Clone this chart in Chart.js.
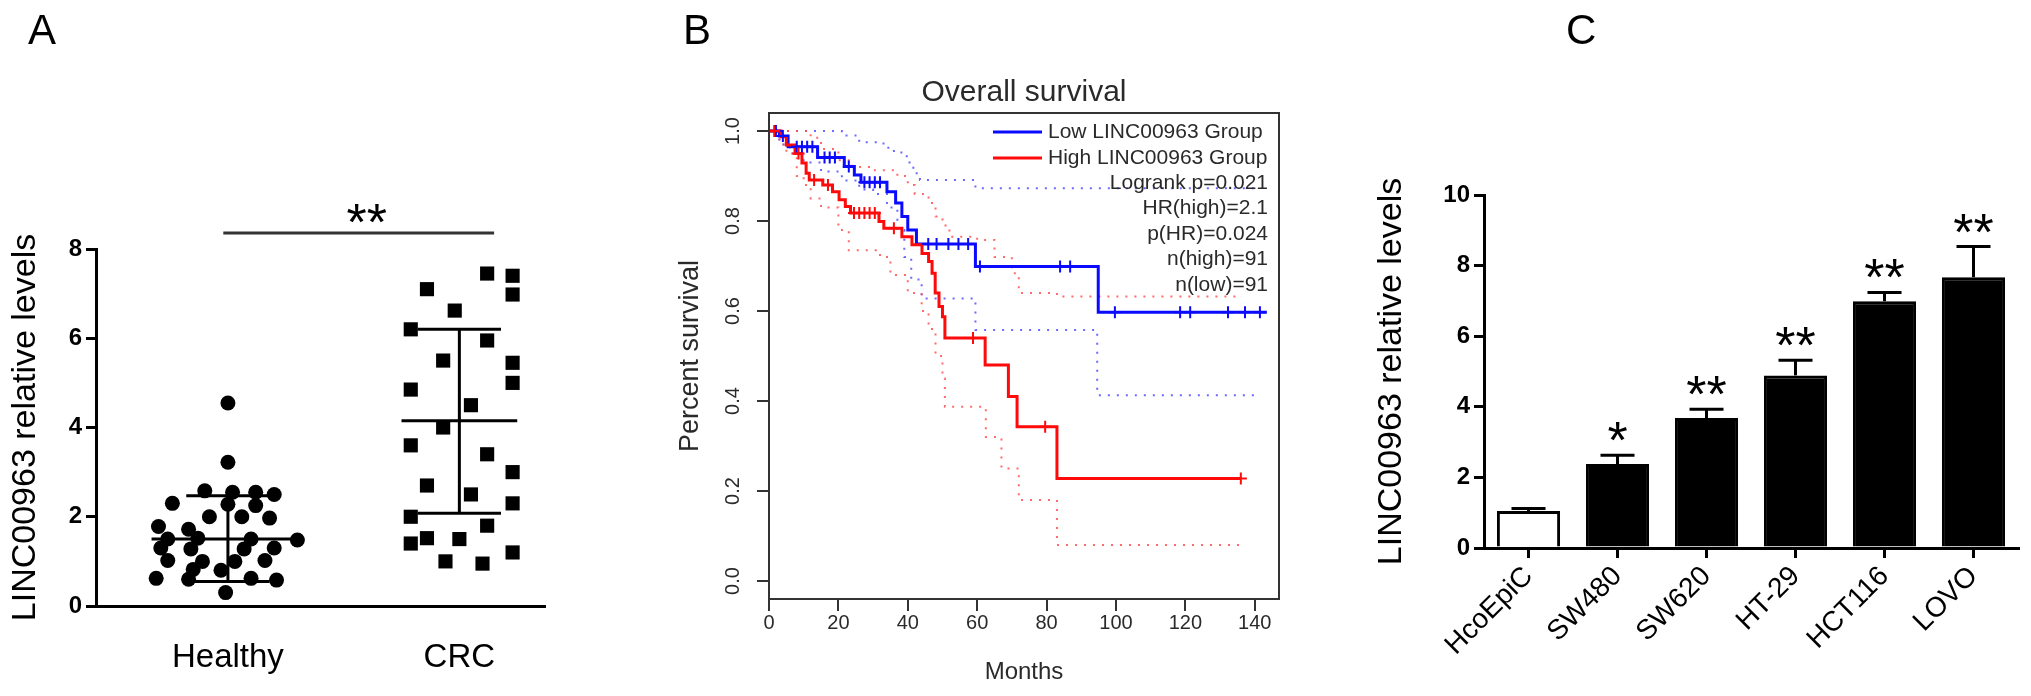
<!DOCTYPE html>
<html>
<head>
<meta charset="utf-8">
<script src="https://cdn.jsdelivr.net/npm/chart.js@4.4.1/dist/chart.umd.min.js"></script>
<style>
html,body{margin:0;padding:0;background:#fff;width:2031px;height:696px;overflow:hidden;}
canvas{position:absolute;top:0;}
.letter{position:absolute;font-family:'Liberation Sans',Arial,sans-serif;font-size:42px;color:#000;line-height:1;}
</style>
</head>
<body>
<canvas id="cA" width="600" height="696" style="left:0px"></canvas>
<canvas id="cB" width="690" height="696" style="left:600px"></canvas>
<canvas id="cC" width="741" height="696" style="left:1290px"></canvas>
<div class="letter" style="left:28px;top:9px">A</div>
<div class="letter" style="left:683px;top:9px">B</div>
<div class="letter" style="left:1566px;top:9px">C</div>
<script>
// ---------------- Panel A data ----------------
const groupLabels = ['Healthy', 'CRC'];
const yTicksA = [0, 2, 4, 6, 8];
const healthyValues = [4.55, 3.22, 2.58, 2.55, 2.55, 2.5, 2.3, 2.28, 2.25, 2.0, 2.0, 1.97, 1.78, 1.72,
  1.5, 1.52, 1.5, 1.48, 1.3, 1.28, 1.28, 1.3, 1.02, 1.0, 1.0, 1.02, 0.82, 0.8, 0.62, 0.6, 0.62, 0.58, 0.3];
const healthyJitter = [0.0, 0.0, -0.10, 0.02, 0.12, 0.20, -0.24, 0.0, 0.12, -0.08, 0.06, 0.18, -0.30, -0.17,
  -0.26, -0.13, 0.10, 0.30, -0.29, -0.16, 0.07, 0.20, -0.26, -0.11, 0.03, 0.16, -0.15, -0.03, -0.31, -0.17, 0.10, 0.21, -0.01];
const crcValues = [7.45, 7.4, 7.1, 6.98, 6.62, 6.2, 5.95, 5.5, 5.45, 5.0, 4.85, 4.5, 4.0, 3.6, 3.4, 3.0,
  2.7, 2.5, 2.3, 2.0, 1.8, 1.52, 1.5, 1.4, 1.2, 1.0, 0.95];
const crcJitter = [0.12, 0.23, -0.14, 0.23, -0.02, -0.21, 0.12, -0.07, 0.23, 0.23, -0.21, 0.05, -0.07, -0.21, 0.12, 0.23,
  -0.14, 0.05, 0.23, -0.21, 0.12, -0.14, 0.0, -0.21, 0.23, -0.06, 0.10];
const groupMeans = [1.5, 4.15];
const groupSdLow = [0.55, 2.08];
const groupSdHigh = [2.47, 6.2];
const sigLabelA = '**';

// ---------------- Panel B data ----------------
const kmTicksX = [0, 20, 40, 60, 80, 100, 120, 140];
const kmTicksY = [0, 0.2, 0.4, 0.6, 0.8, 1.0];
const kmGroups = ['Low LINC00963 Group', 'High LINC00963 Group'];
const kmStats = ['Logrank p=0.021', 'HR(high)=2.1', 'p(HR)=0.024', 'n(high)=91', 'n(low)=91'];
const lowTimes = [0, 3, 5.5, 14, 21.7, 24.6, 26.5, 34, 36.5, 38.3, 40, 42.5, 59.5, 94.9, 143.5];
const lowSurv  = [1, 0.989, 0.965, 0.941, 0.921, 0.902, 0.886, 0.865, 0.84, 0.81, 0.78, 0.749, 0.699, 0.597, 0.597];
const highTimes = [0, 3.5, 5, 7.5, 9.5, 10.7, 11.6, 15.5, 18.3, 20.2, 22, 23.5, 31.7, 33.1, 38.3, 41.2, 44.1, 46, 47, 47.9, 49, 50, 50.7, 62.3, 69, 71.5, 83, 136];
const highSurv  = [1, 0.987, 0.969, 0.95, 0.929, 0.906, 0.891, 0.88, 0.865, 0.847, 0.832, 0.818, 0.799, 0.784, 0.765, 0.747, 0.728, 0.71, 0.684, 0.64, 0.61, 0.587, 0.54, 0.48, 0.41, 0.343, 0.228, 0.228];
const lowCensorTimes = [2, 4, 8, 9.5, 11, 12.5, 16, 17.5, 19, 23, 27.5, 29, 30.5, 32, 45.9, 48.3, 51.7, 54.6, 57.4, 60.8, 83.9, 86.8, 99.7, 118.5, 121.4, 132.3, 137.2, 141.5];
const lowCensorSurv  = [1, 0.989, 0.965, 0.965, 0.965, 0.965, 0.941, 0.941, 0.941, 0.921, 0.886, 0.886, 0.886, 0.886, 0.749, 0.749, 0.749, 0.749, 0.749, 0.699, 0.699, 0.699, 0.597, 0.597, 0.597, 0.597, 0.597, 0.597];
const highCensorTimes = [1.5, 8.5, 13, 17, 24.5, 26, 27.5, 29, 30.5, 36, 58.8, 79.6, 136];
const highCensorSurv  = [1, 0.95, 0.891, 0.88, 0.818, 0.818, 0.818, 0.818, 0.818, 0.784, 0.54, 0.343, 0.228];
const lowUpperTimes = [0, 21, 26, 33, 36, 39.7, 41.6, 43.5, 59.5, 141.5];
const lowUpperSurv  = [1, 0.99, 0.975, 0.963, 0.952, 0.93, 0.906, 0.891, 0.873, 0.873];
const lowLowerTimes = [0, 3, 6, 10, 15, 21, 26, 30, 34, 37, 39, 41, 44, 59.5, 94.6, 140];
const lowLowerSurv  = [1, 0.97, 0.95, 0.93, 0.91, 0.89, 0.87, 0.86, 0.83, 0.78, 0.72, 0.67, 0.628, 0.558, 0.413, 0.413];
const highUpperTimes = [0, 12, 15, 20, 24, 30, 37, 40, 42, 46, 48, 50, 52, 60, 65, 70, 72, 83, 135];
const highUpperSurv  = [1, 0.985, 0.96, 0.935, 0.92, 0.913, 0.9, 0.88, 0.86, 0.84, 0.81, 0.79, 0.765, 0.758, 0.72, 0.684, 0.64, 0.632, 0.632];
const highLowerTimes = [0, 3, 5, 8, 10, 12, 15, 20, 23, 32, 35, 40, 44, 46, 48, 50, 50.7, 62.5, 67, 72, 83, 136];
const highLowerSurv  = [1, 0.97, 0.95, 0.9, 0.88, 0.85, 0.83, 0.78, 0.735, 0.72, 0.68, 0.64, 0.6, 0.56, 0.5, 0.45, 0.387, 0.32, 0.25, 0.18, 0.08, 0.08];

// ---------------- Panel C data ----------------
const cellLines = ['HcoEpiC', 'SW480', 'SW620', 'HT-29', 'HCT116', 'LOVO'];
const levels = [1.05, 2.38, 3.68, 4.89, 6.99, 7.67];
const levelErr = [0.07, 0.25, 0.25, 0.43, 0.25, 0.87];
const sigMarks = ['', '*', '**', '**', '**', '**'];
const yTicksC = [0, 2, 4, 6, 8, 10];

// ---------------- common ----------------
const FONT = "'Liberation Sans', Arial, Helvetica, sans-serif";
Chart.defaults.font.family = FONT;
Chart.defaults.color = '#000';
Chart.defaults.animation = false;

function seg(ctx, x1, y1, x2, y2) { ctx.beginPath(); ctx.moveTo(x1, y1); ctx.lineTo(x2, y2); ctx.stroke(); }
function drawStars(ctx, txt, cx, cy) {
  ctx.font = '52px ' + FONT; ctx.textAlign = 'center'; ctx.textBaseline = 'alphabetic'; ctx.fillStyle = '#000';
  ctx.fillText(txt, cx, cy + 25);
}

// ---------------- Panel A ----------------
const panelAPlugin = {
  id: 'panelA',
  afterDatasetsDraw(chart) {
    const { ctx, scales: { x, y } } = chart;
    ctx.save();
    ctx.strokeStyle = '#000'; ctx.lineWidth = 3; ctx.lineCap = 'butt';
    const meanHalf = [0.33, 0.25], capHalf = 0.18;
    groupMeans.forEach((m, i) => {
      const c = i + 1;
      const cx = x.getPixelForValue(c);
      const ym = y.getPixelForValue(m), yl = y.getPixelForValue(groupSdLow[i]), yh = y.getPixelForValue(groupSdHigh[i]);
      seg(ctx, x.getPixelForValue(c - meanHalf[i]), ym, x.getPixelForValue(c + meanHalf[i]), ym);
      seg(ctx, cx, yl, cx, yh);
      seg(ctx, x.getPixelForValue(c - capHalf), yl, x.getPixelForValue(c + capHalf), yl);
      seg(ctx, x.getPixelForValue(c - capHalf), yh, x.getPixelForValue(c + capHalf), yh);
    });
    // significance bar
    const ly = y.getPixelForValue(8.36);
    ctx.strokeStyle = '#333';
    seg(ctx, x.getPixelForValue(0.98), ly, x.getPixelForValue(2.15), ly);
    drawStars(ctx, sigLabelA, x.getPixelForValue(1.6), ly - 18);
    ctx.restore();
  }
};

new Chart(document.getElementById('cA'), {
  type: 'scatter',
  data: {
    datasets: [
      { data: healthyValues.map((v, i) => ({ x: 1 + healthyJitter[i], y: v })), pointStyle: 'circle', pointRadius: 7.5,
        backgroundColor: '#000', borderColor: '#000', borderWidth: 0 },
      { data: crcValues.map((v, i) => ({ x: 2 + crcJitter[i], y: v })), pointStyle: 'rect', pointRadius: 10,
        backgroundColor: '#000', borderColor: '#000', borderWidth: 0 }
    ]
  },
  options: {
    responsive: false, animation: false, events: [],
    layout: { padding: { left: 0, top: 249, right: 55, bottom: 0 } },
    plugins: { legend: { display: false }, tooltip: { enabled: false } },
    scales: {
      x: {
        type: 'linear', min: 0.43, max: 2.37,
        afterFit(s) { s.height = 90; },
        afterBuildTicks(s) { s.ticks = groupLabels.map((g, i) => ({ value: i + 1 })); },
        grid: { display: false },
        border: { display: true, color: '#000', width: 3 },
        ticks: { callback: (v) => groupLabels[v - 1], font: { size: 33 }, color: '#000', padding: 24, maxRotation: 0, autoSkip: false }
      },
      y: {
        min: 0, max: 8,
        afterFit(s) { s.width = 96; },
        afterBuildTicks(s) { s.ticks = yTicksA.map(v => ({ value: v })); },
        grid: { drawOnChartArea: false, tickLength: 10, lineWidth: 3, color: '#000' },
        border: { display: true, color: '#000', width: 3 },
        ticks: { font: { size: 24, weight: 'bold' }, color: '#000', padding: 4 },
        title: { display: true, text: 'LINC00963 relative levels', font: { size: 34 }, color: '#000', padding: { top: 5, bottom: 0 } }
      }
    }
  },
  plugins: [panelAPlugin]
});

// ---------------- Panel B ----------------
const BLUE = '#0a0aff', RED = '#ff0a0a', TXT = '#2a2a2a';
function pts(t, s) { return t.map((v, i) => ({ x: v, y: s[i] })); }
function stepDs(t, s, color, width, dash) {
  return { type: 'line', data: pts(t, s), stepped: 'before', borderColor: color, borderWidth: width,
    borderDash: dash || [], pointRadius: 0, fill: false, tension: 0 };
}
function censorDs(t, s, color) {
  return { type: 'scatter', data: pts(t, s), pointStyle: 'cross', pointRadius: 6, borderColor: color,
    backgroundColor: color, borderWidth: 2, showLine: false };
}
const panelBPlugin = {
  id: 'panelB',
  afterDraw(chart) {
    const { ctx, chartArea: a, scales: { y } } = chart;
    ctx.save();
    ctx.strokeStyle = '#333'; ctx.lineWidth = 2;
    ctx.strokeRect(a.left, a.top, a.right - a.left, a.bottom - a.top);
    ctx.fillStyle = TXT;
    // y tick labels (rotated, R style)
    ctx.font = '20px ' + FONT; ctx.textAlign = 'center'; ctx.textBaseline = 'middle';
    kmTicksY.forEach(v => {
      ctx.save(); ctx.translate(a.left - 36, y.getPixelForValue(v)); ctx.rotate(-Math.PI / 2);
      ctx.fillText(v.toFixed(1), 0, 0); ctx.restore();
    });
    // title
    ctx.font = '30px ' + FONT; ctx.textAlign = 'center'; ctx.textBaseline = 'middle';
    ctx.fillText('Overall survival', (a.left + a.right) / 2, a.top - 20);
    // legend
    const colors = [BLUE, RED];
    ctx.font = '21px ' + FONT; ctx.textAlign = 'left';
    kmGroups.forEach((g, i) => {
      const ly = a.top + 19 + i * 26;
      ctx.strokeStyle = colors[i]; ctx.lineWidth = 3;
      seg(ctx, a.right - 286, ly, a.right - 237, ly);
      ctx.fillStyle = TXT; ctx.fillText(g, a.right - 231, ly);
    });
    ctx.textAlign = 'right';
    kmStats.forEach((s, i) => ctx.fillText(s, a.right - 11, a.top + 70 + i * 25.5));
    ctx.restore();
  }
};

new Chart(document.getElementById('cB'), {
  type: 'line',
  data: {
    datasets: [
      censorDs(highCensorTimes, highCensorSurv, RED),
      censorDs(lowCensorTimes, lowCensorSurv, BLUE),
      stepDs(highTimes, highSurv, RED, 3),
      stepDs(lowTimes, lowSurv, BLUE, 3),
      stepDs(highUpperTimes, highUpperSurv, 'rgba(255,80,80,0.85)', 2, [2, 7]),
      stepDs(highLowerTimes, highLowerSurv, 'rgba(255,80,80,0.85)', 2, [2, 7]),
      stepDs(lowUpperTimes, lowUpperSurv, 'rgba(80,80,255,0.85)', 2, [2, 7]),
      stepDs(lowLowerTimes, lowLowerSurv, 'rgba(80,80,255,0.85)', 2, [2, 7])
    ]
  },
  options: {
    responsive: false, animation: false, events: [],
    layout: { padding: { left: 0, top: 113, right: 11, bottom: 0 } },
    plugins: { legend: { display: false }, tooltip: { enabled: false } },
    scales: {
      x: {
        type: 'linear', min: 0, max: 147,
        afterFit(s) { s.height = 97; },
        afterBuildTicks(s) { s.ticks = kmTicksX.map(v => ({ value: v })); },
        grid: { drawOnChartArea: false, tickLength: 12, lineWidth: 2, color: '#333' },
        border: { display: false },
        ticks: { font: { size: 20 }, color: TXT, padding: 0, maxRotation: 0, autoSkip: false },
        title: { display: true, text: 'Months', font: { size: 24 }, color: TXT, padding: { top: 0, bottom: 9 } }
      },
      y: {
        type: 'linear', min: -0.04, max: 1.04,
        afterFit(s) { s.width = 169; },
        afterBuildTicks(s) { s.ticks = kmTicksY.map(v => ({ value: v })); },
        grid: { drawOnChartArea: false, tickLength: 12, lineWidth: 2, color: '#333' },
        border: { display: false },
        ticks: { display: false },
        title: { display: true, text: 'Percent survival', font: { size: 27 }, color: TXT, padding: { top: 74, bottom: 0 } }
      }
    }
  },
  plugins: [panelBPlugin]
});

// ---------------- Panel C ----------------
const panelCPlugin = {
  id: 'panelC',
  afterDatasetsDraw(chart) {
    const { ctx, scales: { y } } = chart;
    const meta = chart.getDatasetMeta(0);
    ctx.save();
    ctx.strokeStyle = '#000'; ctx.lineWidth = 3;
    meta.data.forEach((bar, i) => {
      const top = y.getPixelForValue(levels[i]);
      const hi = y.getPixelForValue(levels[i] + levelErr[i]);
      seg(ctx, bar.x, top, bar.x, hi);
      seg(ctx, bar.x - 17, hi, bar.x + 17, hi);
      if (sigMarks[i]) drawStars(ctx, sigMarks[i], bar.x, hi - 22);
    });
    ctx.restore();
  }
};

new Chart(document.getElementById('cC'), {
  type: 'bar',
  data: {
    labels: cellLines,
    datasets: [{
      data: levels,
      backgroundColor: levels.map((v, i) => i === 0 ? '#ffffff' : '#000000'),
      borderColor: '#000', borderWidth: 3, borderSkipped: 'start',
      categoryPercentage: 1, barPercentage: 0.71
    }]
  },
  options: {
    responsive: false, animation: false, events: [],
    layout: { padding: { left: 0, top: 195, right: 13, bottom: 0 } },
    plugins: { legend: { display: false }, tooltip: { enabled: false } },
    scales: {
      x: {
        afterFit(s) { s.height = 148; },
        grid: { offset: false, drawOnChartArea: false, tickLength: 10, lineWidth: 3, color: '#000' },
        border: { display: true, color: '#000', width: 3 },
        ticks: { font: { size: 28 }, color: '#000', minRotation: 45, maxRotation: 45, padding: 2, autoSkip: false }
      },
      y: {
        min: 0, max: 10,
        afterFit(s) { s.width = 194; },
        afterBuildTicks(s) { s.ticks = yTicksC.map(v => ({ value: v })); },
        grid: { drawOnChartArea: false, tickLength: 10, lineWidth: 3, color: '#000' },
        border: { display: true, color: '#000', width: 3 },
        ticks: { font: { size: 24, weight: 'bold' }, color: '#000', padding: 4 },
        title: { display: true, text: 'LINC00963 relative levels', font: { size: 34 }, color: '#000', padding: { top: 81, bottom: 0 } }
      }
    }
  },
  plugins: [panelCPlugin]
});
</script>
</body>
</html>
